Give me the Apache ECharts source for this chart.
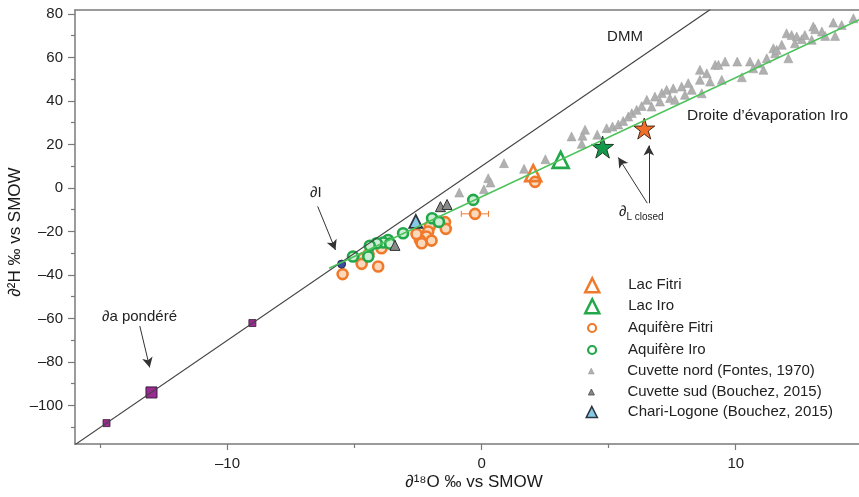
<!DOCTYPE html>
<html>
<head>
<meta charset="utf-8">
<script src="https://cdn.jsdelivr.net/npm/echarts@6/dist/echarts.min.js"></script>
<style>
  html, body { margin: 0; padding: 0; background: #fff; }
  #chart { width: 859px; height: 497px; }
</style>
</head>
<body>
<div id="chart"></div>
<script>
// axes
var xLabelValues = [-10, 0, 10];
var xMinorTicks = [-15, -5, 5];
var yLabelValues = [-100, -80, -60, -40, -20, 0, 20, 40, 60, 80];
var yMinorTicks = [-110, -90, -70, -50, -30, -10, 10, 30, 50, 70];

// droite meteorique mondiale (DMM) et droite d'evaporation Iro, extremites
var dmmX = [-16, 9];
var dmmY = [-118, 82];
var evapX = [-6, 15];
var evapY = [-36.9, 78.1];

// Lacs
var lacFitriX = [2.03];
var lacFitriY = [6.8];
var lacIroX = [3.11];
var lacIroY = [12.9];

// Aquiferes
var aqFitriX = [-0.26, -1.44, -1.41, -2.04, -2.10, -2.17, -2.43, -1.97, -2.36, -2.56, -3.94, -4.66, -4.72, -4.07, -5.47, -4.45, 2.10];
var aqFitriY = [-11.9, -15.7, -18.8, -17.7, -20.0, -22.3, -23.9, -24.2, -25.4, -21.2, -27.7, -32.3, -34.9, -36.1, -39.6, -30.5, 2.8];
var aqFitriErrX = [-0.26];
var aqFitriErrY = [-11.9];
var aqFitriErrLow = [-0.8];
var aqFitriErrHigh = [0.27];

var aqIroX = [-0.33, -1.95, -1.68, -3.09, -3.68, -3.87, -4.13, -4.40, -3.60, -5.06, -4.46];
var aqIroY = [-5.5, -13.9, -15.6, -20.8, -23.9, -25.1, -25.4, -26.6, -25.6, -31.5, -31.5];

// Cuvette nord (Fontes, 1970)
var nordX = [-0.88, 0.09, 0.26, 0.35, 0.88, 1.67, 2.51, 3.54, 3.94, 3.97, 4.07, 4.55, 4.92, 5.15, 5.38, 5.57,
  5.77, 5.91, 6.10, 6.30, 6.50, 6.69, 6.82, 7.02, 7.09, 7.28, 7.41, 7.54, 7.61, 7.87, 8.00, 8.13, 8.27, 8.59,
  8.59, 8.66, 8.86, 8.99, 9.19, 9.32, 9.45, 9.58, 10.06, 10.24, 10.56, 10.69, 10.89, 11.09, 11.22, 11.48, 11.55,
  11.61, 11.81, 12.07, 12.00, 12.20, 12.33, 12.40, 12.60, 12.72, 12.99, 13.05, 13.12, 13.39, 13.52, 13.84, 13.91,
  14.17, 14.63];
var nordY = [-2.1, -0.6, 4.5, 2.5, 11.4, 8.8, 13.2, 23.7, 20.3, 24.0, 26.8, 24.5, 27.5, 28.2, 29.2, 30.8,
  32.8, 34.4, 35.9, 37.7, 40.5, 37.4, 42.0, 39.7, 43.6, 45.1, 41.3, 45.8, 40.5, 46.6, 42.8, 48.2, 45.1, 54.3,
  49.7, 43.5, 52.7, 48.9, 56.6, 56.6, 49.7, 58.1, 58.1, 50.9, 58.1, 55.0, 57.3, 54.3, 59.6, 64.2, 61.9,
  63.5, 65.8, 59.6, 71.1, 70.3, 66.5, 69.6, 68.4, 70.3, 68.1, 74.2, 73.0, 71.9, 69.9, 76.0, 69.9,
  74.9, 78.0];

// Cuvette sud (Bouchez, 2015)
var sudX = [-1.62, -1.36, -3.41];
var sudY = [-8.6, -7.6, -26.4];

// Chari-Logone (Bouchez, 2015)
var chariX = [-2.59];
var chariY = [-15.4];

// dL closed
var starIroX = [4.76];
var starIroY = [18.8];
var starFitriX = [6.4];
var starFitriY = [27.3];

// dI
var dIX = [-5.51];
var dIY = [-35.0];

// pluies et da pondere
var pluieX = [-14.76, -9.02];
var pluieY = [-108.1, -62.1];
var daX = [-12.99];
var daY = [-94.0];

function pts(xs, ys) {
  var out = [];
  for (var i = 0; i < xs.length; i++) {
    out.push([xs[i], ys[i]]);
  }
  return out;
}

var FONT = 'Liberation Sans, Arial, Helvetica, sans-serif';
var AXIS_COLOR = '#7a7a7a';
var ORANGE = '#f07a2c';
var GREEN = '#22a84a';
var STAR = 'path://M50,2 L61.2,36.3 L97.6,36.3 L68.2,57.7 L79.4,92 L50,70.8 L20.6,92 L31.8,57.7 L2.4,36.3 L38.8,36.3 Z';

function dash(v) {
  return v < 0 ? '\u2013' + Math.abs(v) : String(v);
}

var myChart = echarts.init(document.getElementById('chart'));

// une legende par ligne : symbole centre en x=591, texte a x=627
function legendRow(top, name, icon, size, style) {
  return {
    left: 591 - size / 2,
    top: top,
    padding: 0,
    itemWidth: size,
    itemHeight: size,
    selectedMode: false,
    textStyle: { fontFamily: FONT, fontSize: 15, color: '#222', lineHeight: 16, padding: [0, 0, 0, 31 - size / 2] },
    data: [{ name: name, icon: icon, itemStyle: style }]
  };
}

var baseX = { type: 'value', min: -16, max: 14.85, splitLine: { show: false } };
var baseY = { type: 'value', min: -117.7, max: 81.8, splitLine: { show: false } };

var option = {
  animation: false,
  backgroundColor: '#fff',
  grid: { left: 75, right: 0, top: 10, bottom: 53 },
  xAxis: [
    echarts.util.merge({
      position: 'bottom',
      axisLine: { onZero: false, lineStyle: { color: AXIS_COLOR, width: 1.5 } },
      axisTick: { customValues: xLabelValues, length: 6, lineStyle: { color: AXIS_COLOR, width: 1.2 } },
      axisLabel: { customValues: xLabelValues, formatter: dash, margin: 12, fontFamily: FONT, fontSize: 15, color: '#222' }
    }, baseX),
    echarts.util.merge({
      position: 'bottom',
      axisLine: { show: false, onZero: false },
      axisTick: { customValues: xMinorTicks, length: 4, lineStyle: { color: AXIS_COLOR, width: 1.2 } },
      axisLabel: { show: false }
    }, baseX),
    echarts.util.merge({
      position: 'top',
      axisLine: { onZero: false, lineStyle: { color: AXIS_COLOR, width: 1.5 } },
      axisTick: { show: false },
      axisLabel: { show: false }
    }, baseX)
  ],
  yAxis: [
    echarts.util.merge({
      position: 'left',
      axisLine: { onZero: false, lineStyle: { color: AXIS_COLOR, width: 1.5 } },
      axisTick: { customValues: yLabelValues, length: 7, lineStyle: { color: AXIS_COLOR, width: 1.2 } },
      axisLabel: { customValues: yLabelValues, formatter: dash, margin: 12, fontFamily: FONT, fontSize: 15, color: '#222' }
    }, baseY),
    echarts.util.merge({
      position: 'left',
      axisLine: { show: false, onZero: false },
      axisTick: { customValues: yMinorTicks, length: 4, lineStyle: { color: AXIS_COLOR, width: 1.2 } },
      axisLabel: { show: false }
    }, baseY)
  ],
  legend: [
    legendRow(277, 'Lac Fitri', 'triangle', 14, { color: '#fff', borderColor: ORANGE, borderWidth: 2.5 }),
    legendRow(298, 'Lac Iro', 'triangle', 14, { color: '#fff', borderColor: GREEN, borderWidth: 2.5 }),
    legendRow(320, 'Aquif\u00e8re Fitri', 'circle', 8, { color: '#fff', borderColor: ORANGE, borderWidth: 2.2 }),
    legendRow(342, 'Aquif\u00e8re Iro', 'circle', 8, { color: '#fff', borderColor: GREEN, borderWidth: 2.2 }),
    legendRow(363, 'Cuvette nord (Fontes, 1970)', 'triangle', 6, { color: '#b0b0b0', borderColor: '#9a9a9a', borderWidth: 0.5 }),
    legendRow(384, 'Cuvette sud (Bouchez, 2015)', 'triangle', 6, { color: '#8a8a8a', borderColor: '#444', borderWidth: 0.8 }),
    legendRow(404, 'Chari-Logone (Bouchez, 2015)', 'triangle', 11, { color: '#86c8e6', borderColor: '#2b3440', borderWidth: 1.6 })
  ],
  graphic: [
    { type: 'text', x: 625, y: 37, style: { text: 'DMM', font: '15px ' + FONT, fill: '#222', align: 'center', verticalAlign: 'middle' } },
    { type: 'text', x: 687, y: 116, style: { text: 'Droite d\u2019\u00e9vaporation Iro', font: '15.5px ' + FONT, fill: '#222', align: 'left', verticalAlign: 'middle' } },
    { type: 'text', x: 102, y: 317, style: { text: '\u2202a pond\u00e9r\u00e9', font: '15px ' + FONT, fill: '#222', align: 'left', verticalAlign: 'middle' } },
    { type: 'text', x: 310, y: 193, style: { text: '\u2202I', font: '15px ' + FONT, fill: '#222', align: 'left', verticalAlign: 'middle' } },
    { type: 'text', x: 619, y: 212, style: {
        text: '{d|\u2202}{s|L closed}', fill: '#222', align: 'left', verticalAlign: 'middle',
        rich: {
          d: { fontFamily: FONT, fontSize: 15, lineHeight: 20 },
          s: { fontFamily: FONT, fontSize: 10, lineHeight: 10, verticalAlign: 'bottom' }
        }
    } },
    { type: 'text', x: 15, y: 232, rotation: Math.PI / 2, style: { text: '\u2202\u00b2H \u2030 vs SMOW', font: '17px ' + FONT, fill: '#1a1a1a', align: 'center', verticalAlign: 'middle' } },
    { type: 'text', x: 474, y: 482, style: { text: '\u2202\u00b9\u2078O \u2030 vs SMOW', font: '17px ' + FONT, fill: '#1a1a1a', align: 'center', verticalAlign: 'middle' } }
  ],
  series: [
    {
      name: 'DMM', type: 'line', data: pts(dmmX, dmmY), symbol: 'none', clip: true, silent: true,
      lineStyle: { color: '#444', width: 1.2 },
      markLine: {
        silent: true, symbol: ['none', 'arrow'], symbolSize: [8, 10],
        label: { show: false },
        lineStyle: { color: '#333', width: 1, type: 'solid' },
        data: [
          [{ coord: [-13.45, -63.5] }, { coord: [-13.06, -82.5] }],
          [{ coord: [-6.45, -8.5] }, { coord: [-5.75, -28.5] }],
          [{ coord: [6.52, -7.0] }, { coord: [5.38, 14.0] }],
          [{ coord: [6.58, -7.0] }, { coord: [6.58, 19.5] }]
        ]
      }
    },
    {
      name: 'Droite Iro', type: 'line', data: pts(evapX, evapY), symbol: 'none', clip: true, silent: true,
      lineStyle: { color: '#4cc25a', width: 1.5 }
    },
    {
      name: 'Cuvette nord (Fontes, 1970)', type: 'scatter', data: pts(nordX, nordY),
      symbol: 'triangle', symbolSize: 9,
      itemStyle: { color: '#b0b0b0', borderColor: '#9a9a9a', borderWidth: 0.5, opacity: 1 }
    },
    {
      name: 'Aquif\u00e8re Fitri', type: 'custom',
      data: pts(aqFitriErrX, aqFitriErrY).map(function (p, i) { return [p[0], p[1], aqFitriErrLow[i], aqFitriErrHigh[i]]; }),
      renderItem: function (params, api) {
        var a = api.coord([api.value(2), api.value(1)]);
        var b = api.coord([api.value(3), api.value(1)]);
        var st = { stroke: ORANGE, lineWidth: 1 };
        return {
          type: 'group', children: [
            { type: 'line', shape: { x1: a[0], y1: a[1], x2: b[0], y2: b[1] }, style: st },
            { type: 'line', shape: { x1: a[0], y1: a[1] - 3, x2: a[0], y2: a[1] + 3 }, style: st },
            { type: 'line', shape: { x1: b[0], y1: b[1] - 3, x2: b[0], y2: b[1] + 3 }, style: st }
          ]
        };
      },
      silent: true
    },
    {
      name: 'Aquif\u00e8re Fitri', type: 'scatter', data: pts(aqFitriX, aqFitriY),
      symbol: 'circle', symbolSize: 10,
      itemStyle: { color: '#fbd9bd', borderColor: ORANGE, borderWidth: 2.6, opacity: 1 }
    },
    {
      name: 'Aquif\u00e8re Iro', type: 'scatter', data: pts(aqIroX, aqIroY),
      symbol: 'circle', symbolSize: 10,
      itemStyle: { color: '#cdeed5', borderColor: GREEN, borderWidth: 2.6, opacity: 1 }
    },
    {
      name: 'Cuvette sud (Bouchez, 2015)', type: 'scatter', data: pts(sudX, sudY),
      symbol: 'triangle', symbolSize: 10,
      itemStyle: { color: '#8a8a8a', borderColor: '#333', borderWidth: 1, opacity: 1 }
    },
    {
      name: 'Chari-Logone (Bouchez, 2015)', type: 'scatter', data: pts(chariX, chariY),
      symbol: 'triangle', symbolSize: 13,
      itemStyle: { color: '#86c8e6', borderColor: '#2b3440', borderWidth: 1.8, opacity: 1 }
    },
    {
      name: 'Lac Fitri', type: 'scatter', data: pts(lacFitriX, lacFitriY),
      symbol: 'triangle', symbolSize: 16,
      itemStyle: { color: 'rgba(255,255,255,0)', borderColor: ORANGE, borderWidth: 2.6, opacity: 1 }
    },
    {
      name: 'Lac Iro', type: 'scatter', data: pts(lacIroX, lacIroY),
      symbol: 'triangle', symbolSize: 16,
      itemStyle: { color: 'rgba(255,255,255,0)', borderColor: GREEN, borderWidth: 2.6, opacity: 1 }
    },
    {
      name: 'dL Iro', type: 'scatter', data: pts(starIroX, starIroY),
      symbol: STAR, symbolSize: 22,
      itemStyle: { color: '#12994a', borderColor: '#1d3a26', borderWidth: 1, opacity: 1 }
    },
    {
      name: 'dL Fitri', type: 'scatter', data: pts(starFitriX, starFitriY),
      symbol: STAR, symbolSize: 21,
      itemStyle: { color: '#f0702a', borderColor: '#4a2a1a', borderWidth: 1, opacity: 1 }
    },
    {
      name: 'dI', type: 'scatter', data: pts(dIX, dIY),
      symbol: 'circle', symbolSize: 8,
      itemStyle: { color: '#3a4a9e', borderColor: '#222a55', borderWidth: 1, opacity: 1 }
    },
    {
      name: 'pluies', type: 'scatter', data: pts(pluieX, pluieY),
      symbol: 'rect', symbolSize: 7,
      itemStyle: { color: '#9b2a93', borderColor: '#3a1a3a', borderWidth: 0.8, opacity: 1 }
    },
    {
      name: 'da pondere', type: 'scatter', data: pts(daX, daY),
      symbol: 'rect', symbolSize: 11,
      itemStyle: { color: '#9b2a93', borderColor: '#3a1a3a', borderWidth: 1, opacity: 1 }
    }
  ]
};

myChart.setOption(option);
</script>
</body>
</html>
